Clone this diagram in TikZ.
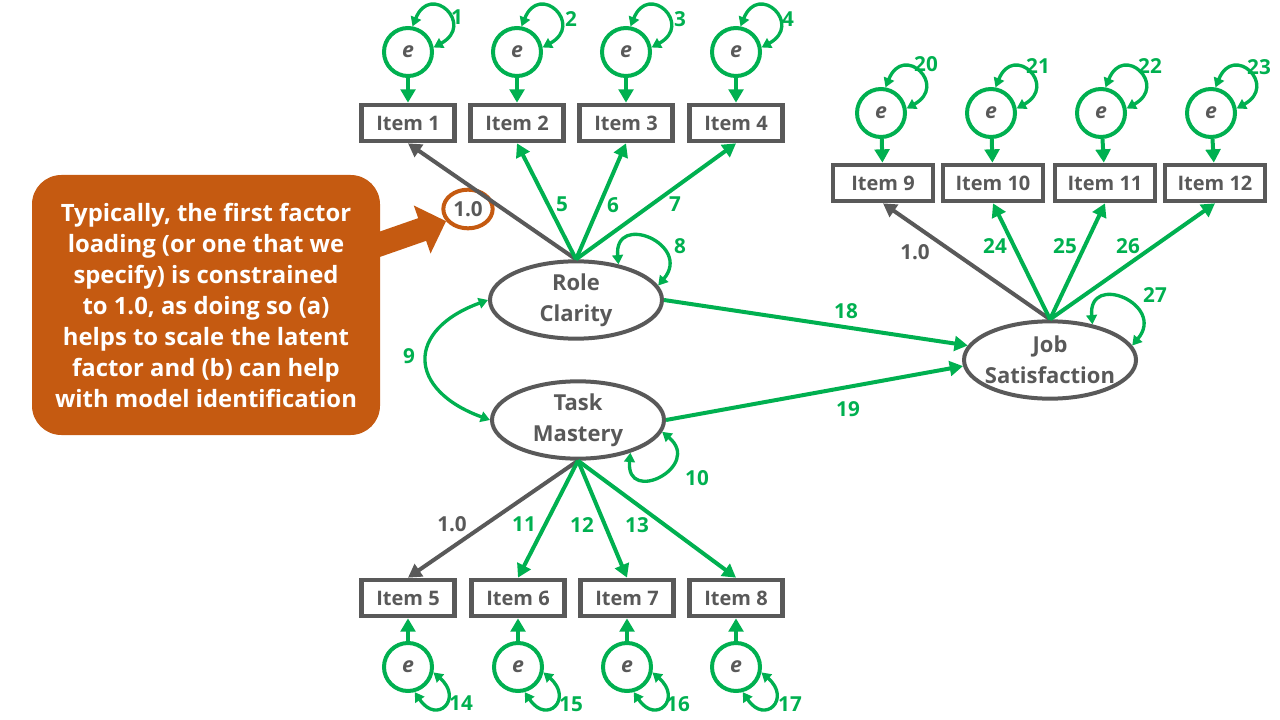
\documentclass[tikz,border=0pt]{standalone}
\usepackage{fontspec}
\setmainfont{Open Sans}
\usetikzlibrary{arrows.meta,shapes.geometric}
\definecolor{semgreen}{HTML}{00B050}
\definecolor{semgray}{HTML}{595959}
\definecolor{semorange}{HTML}{C55A11}
\tikzset{
  item/.style={draw=semgray,line width=3.5pt,text=semgray,minimum width=70pt,minimum height=27pt,inner sep=0pt,font=\bfseries\fontsize{15}{17}\selectfont},
  wideitem/.style={item,minimum width=75pt},
  err/.style={circle,draw=semgreen,line width=3pt,minimum size=36pt,inner sep=0pt,text=semgray,font=\bfseries\itshape\fontsize{16}{18}\selectfont},
  latent/.style={ellipse,draw=semgray,line width=3pt,minimum width=129pt,minimum height=58pt,inner xsep=-10pt,inner ysep=0pt,align=center,text=semgray,font=\bfseries\fontsize{16.5}{23}\selectfont},
  num/.style={text=semgreen,font=\bfseries\fontsize{15.5}{18}\selectfont},
  fixed/.style={num,text=semgray},
  ring/.style={ellipse,draw=semorange,line width=3pt,minimum width=37pt,minimum height=29pt,inner sep=0pt},
  note/.style={fill=semorange,rounded corners=22pt,minimum width=261pt,minimum height=195pt,text=white,align=center,font=\bfseries\fontsize{17.9}{23.25}\selectfont},
  pointer/.style={draw=semorange,line width=18pt,-{Triangle[length=19pt,width=37pt]}},
  loading/.style={semgreen,line width=3pt,-{Triangle[length=10pt,width=11pt]}},
  fixload/.style={loading,semgray},
  resid/.style={loading},
  selfvar/.style={semgreen,line width=2.5pt,{Triangle[length=7pt,width=8pt]}-{Triangle[length=7pt,width=8pt]}}
}
\begin{document}
\begin{tikzpicture}[x=0.75pt,y=-0.75pt]
  \useasboundingbox (0,0) rectangle (1280,720);
  \draw
    (408,123) node[item] (i1){Item 1}
    (517,123) node[item] (i2){Item 2}
    (626,123) node[item] (i3){Item 3}
    (736,123) node[item] (i4){Item 4}
    (408,598) node[item] (i5){Item 5}
    (518,598) node[item] (i6){Item 6}
    (627,598) node[item] (i7){Item 7}
    (736,598) node[item] (i8){Item 8}
    (883,183) node[wideitem] (i9){Item 9}
    (993,183) node[wideitem] (i10){Item 10}
    (1105,183) node[wideitem] (i11){Item 11}
    (1215,183) node[wideitem] (i12){Item 12};
  \draw
    (408,52) node[err] (e1){e}
    (517,52) node[err] (e2){e}
    (626,52) node[err] (e3){e}
    (736,52) node[err] (e4){e}
    (408,667) node[err] (e5){e}
    (518,667) node[err] (e6){e}
    (627,667) node[err] (e7){e}
    (736,667) node[err] (e8){e}
    (881,113) node[err] (e9){e}
    (991,113) node[err] (e10){e}
    (1101,113) node[err] (e11){e}
    (1211,113) node[err] (e12){e};
  \draw
    (576,300) node[latent] (rc){Role\\Clarity}
    (578,420) node[latent] (tm){Task\\Mastery}
    (1050,360) node[latent] (js){Job\\Satisfaction};
  \draw
    (206,305) node[note] (callout){Typically, the first factor\\loading (or one that we\\specify) is constrained\\to 1.0, as doing so (a)\\helps to scale the latent\\factor and (b) can help\\with model identification}
    (468,209) node[ring,fixed] (one){1.0};
  \coordinate (calloutarm) at (372,247);
  \draw[pointer] (calloutarm) to (one.209);
  \begin{scope}[resid]
    \draw (e1) to (i1);
    \draw (e2) to (i2);
    \draw (e3) to (i3);
    \draw (e4) to (i4);
    \draw (e5) to (i5);
    \draw (e6) to (i6);
    \draw (e7) to (i7);
    \draw (e8) to (i8);
    \draw (e9) to (i9);
    \draw (e10) to (i10);
    \draw (e11) to (i11);
    \draw (e12) to (i12);
  \end{scope}
  \begin{scope}[selfvar]
    \draw (e1.80) to[out=68,in=29,distance=36pt] (e1.10);
    \draw (e2.80) to[out=68,in=29,distance=36pt] (e2.10);
    \draw (e3.80) to[out=68,in=29,distance=36pt] (e3.10);
    \draw (e4.80) to[out=68,in=29,distance=36pt] (e4.10);
    \draw (e9.80) to[out=68,in=29,distance=36pt] (e9.10);
    \draw (e10.80) to[out=68,in=29,distance=36pt] (e10.10);
    \draw (e11.80) to[out=68,in=29,distance=36pt] (e11.10);
    \draw (e12.80) to[out=68,in=29,distance=36pt] (e12.10);
    \draw (e5.-12) to[out=-41,in=-56,distance=30pt] (e5.-75);
    \draw (e6.-12) to[out=-41,in=-56,distance=30pt] (e6.-75);
    \draw (e7.-12) to[out=-41,in=-56,distance=30pt] (e7.-75);
    \draw (e8.-12) to[out=-41,in=-56,distance=30pt] (e8.-75);
    \draw (rc.40) to[out=95,in=50,distance=40pt] (rc.10);
    \draw (tm.-32) to[out=-95,in=-40,distance=40pt] (tm.-8);
    \draw (js.40) to[out=95,in=50,distance=40pt] (js.10);
    \draw (rc.west) to[out=200,in=160,distance=66pt] (tm.west);
  \end{scope}
  \draw[fixload] (rc.north) to (i1.south);
  \draw[loading] (rc.north) to (i2.south);
  \draw[loading] (rc.north) to (i3.south);
  \draw[loading] (rc.north) to (i4.south);
  \draw[fixload] (tm.south) to (i5.north);
  \draw[loading] (tm.south) to (i6.north);
  \draw[loading] (tm.south) to (i7.north);
  \draw[loading] (tm.south) to (i8.north);
  \draw[fixload] (js.north) to (i9.south);
  \draw[loading] (js.north) to (i10.south);
  \draw[loading] (js.north) to (i11.south);
  \draw[loading] (js.north) to (i12.south);
  \draw[loading] (rc.east) to (js.170);
  \draw[loading] (tm.east) to (js.184);
  \draw
    (457,17) node[num] (n1){1}
    (571,19) node[num] (n2){2}
    (680,19) node[num] (n3){3}
    (788,19) node[num] (n4){4}
    (562,204) node[num] (n5){5}
    (613,205) node[num] (n6){6}
    (675,204) node[num] (n7){7}
    (680,246) node[num] (n8){8}
    (409,356) node[num] (n9){9}
    (697,478) node[num] (n10){10}
    (524,524) node[num] (n11){11}
    (582,525) node[num] (n12){12}
    (637,525) node[num] (n13){13}
    (461,703) node[num] (n14){14}
    (571,704) node[num] (n15){15}
    (678,704) node[num] (n16){16}
    (790,704) node[num] (n17){17}
    (846,311) node[num] (n18){18}
    (848,409) node[num] (n19){19}
    (926,64) node[num] (n20){20}
    (1038,66) node[num] (n21){21}
    (1150,66) node[num] (n22){22}
    (1259,67) node[num] (n23){23}
    (995,246) node[num] (n24){24}
    (1065,246) node[num] (n25){25}
    (1128,246) node[num] (n26){26}
    (1155,295) node[num] (n27){27}
    (452,524) node[fixed] (f5){1.0}
    (915,252) node[fixed] (f9){1.0};
\end{tikzpicture}
\end{document}
